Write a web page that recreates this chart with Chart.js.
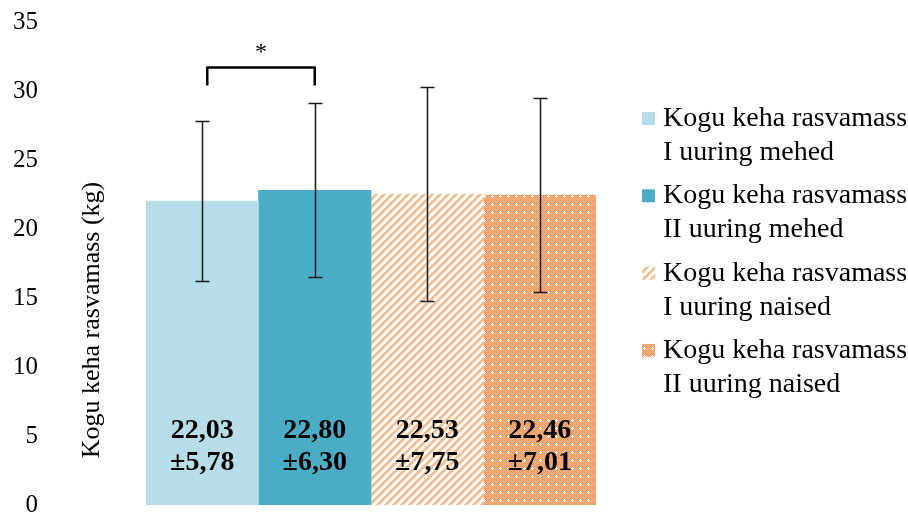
<!DOCTYPE html>
<html>
<head>
<meta charset="utf-8">
<script src="https://cdn.jsdelivr.net/npm/chart.js@4/dist/chart.umd.min.js"></script>
<style>
  html, body { margin: 0; padding: 0; background: #ffffff; }
  #wrap { width: 908px; height: 515px; position: relative; }
</style>
</head>
<body>
<div id="wrap"><canvas id="chart"></canvas></div>
<script>
// Series: total body fat mass (kg), first and second study, men and women
const seriesNames = [
  ['Kogu keha rasvamass', 'I uuring mehed'],
  ['Kogu keha rasvamass', 'II uuring mehed'],
  ['Kogu keha rasvamass', 'I uuring naised'],
  ['Kogu keha rasvamass', 'II uuring naised']
];
const means = [22.03, 22.80, 22.53, 22.46];
const sds = [5.78, 6.30, 7.75, 7.01];
const yTicks = [0, 5, 10, 15, 20, 25, 30, 35];
const axisTitle = 'Kogu keha rasvamass (kg)';
const sigPair = [0, 1];
const sigMark = '*';

const SERIF = '"Liberation Serif", "Times New Roman", serif';

// Fill patterns for the women's bars
function stripeTile() {
  const c = document.createElement('canvas');
  c.width = 8; c.height = 8;
  const g = c.getContext('2d');
  g.fillStyle = '#ffffff';
  g.fillRect(0, 0, 8, 8);
  g.fillStyle = '#f9c193';
  for (let y = 0; y < 8; y++) {
    for (let x = 0; x < 8; x++) {
      if ((x + y) % 8 < 4) g.fillRect(x, y, 1, 1);
    }
  }
  return c;
}
function dotTile() {
  const c = document.createElement('canvas');
  c.width = 8; c.height = 8;
  const g = c.getContext('2d');
  for (let y = 0; y < 8; y++) {
    for (let x = 0; x < 8; x++) {
      g.fillStyle = (x + y) % 2 === 0 ? '#ee985c' : '#f5b487';
      g.fillRect(x, y, 1, 1);
    }
  }
  g.fillStyle = '#ffffff';
  [[4, 3], [3, 4], [4, 4], [5, 4], [4, 5]].forEach(([x, y]) => g.fillRect(x, y, 1, 1));
  return c;
}
const ctx0 = document.getElementById('chart').getContext('2d');
const fills = [
  '#b7dde8',
  '#4bacc6',
  ctx0.createPattern(stripeTile(), 'repeat'),
  ctx0.createPattern(dotTile(), 'repeat')
];

const fmt = v => v.toFixed(2).replace('.', ',');

// Error bars, value labels, significance bracket, axis title and legend
const annotations = {
  id: 'annotations',
  afterDatasetsDraw(chart) {
    const ctx = chart.ctx;
    const y = chart.scales.y;
    const area = chart.chartArea;
    const xs = means.map((m, i) => chart.getDatasetMeta(i).data[0].x);

    ctx.save();
    // value labels inside the bars
    ctx.fillStyle = '#000';
    ctx.font = 'bold 28px ' + SERIF;
    ctx.textAlign = 'center';
    ctx.textBaseline = 'alphabetic';
    means.forEach((m, i) => {
      ctx.fillText(fmt(m), xs[i], area.bottom - 67);
      ctx.fillText('\u00b1' + fmt(sds[i]), xs[i], area.bottom - 35);
    });

    // error bars
    ctx.strokeStyle = '#1a1a1a';
    ctx.lineWidth = 1.5;
    means.forEach((m, i) => {
      const top = Math.round(y.getPixelForValue(m + sds[i])) + 0.5;
      const bot = Math.round(y.getPixelForValue(m - sds[i])) + 0.5;
      const x = Math.round(xs[i]) + 0.5;
      ctx.beginPath();
      ctx.moveTo(x, top); ctx.lineTo(x, bot);
      ctx.moveTo(x - 7, top); ctx.lineTo(x + 7, top);
      ctx.moveTo(x - 7, bot); ctx.lineTo(x + 7, bot);
      ctx.stroke();
    });

    // significance bracket above the men's bars
    const [a, b] = sigPair;
    const peak = Math.max(means[a] + sds[a], means[b] + sds[b]);
    const legY = y.getPixelForValue(peak + 1.3);
    const topY = y.getPixelForValue(peak + 2.6);
    const xl = xs[a] + 5, xr = xs[b];
    ctx.strokeStyle = '#000';
    ctx.lineWidth = 2.5;
    ctx.lineJoin = 'round';
    ctx.beginPath();
    ctx.moveTo(xl, legY);
    ctx.lineTo(xl, topY);
    ctx.lineTo(xr, topY);
    ctx.lineTo(xr, legY);
    ctx.stroke();
    ctx.fillStyle = '#000';
    ctx.font = '24px ' + SERIF;
    ctx.textBaseline = 'middle';
    ctx.fillText(sigMark, (xl + xr) / 2, y.getPixelForValue(peak + 4.0) + 4);

    // y axis title
    ctx.save();
    ctx.translate(92, 320);
    ctx.rotate(-Math.PI / 2);
    ctx.font = '26px ' + SERIF;
    ctx.textAlign = 'center';
    ctx.textBaseline = 'middle';
    ctx.fillText(axisTitle, 0, 0);
    ctx.restore();

    // legend
    ctx.font = '28px ' + SERIF;
    ctx.textAlign = 'left';
    ctx.textBaseline = 'alphabetic';
    seriesNames.forEach((lines, i) => {
      const base = 126 + i * 77.3;
      ctx.fillStyle = fills[i];
      ctx.fillRect(642, base - 14, 13, 13);
      ctx.fillStyle = '#000';
      lines.forEach((t, k) => ctx.fillText(t, 663, base + k * 34));
    });
    ctx.restore();
  }
};

new Chart(ctx0, {
  type: 'bar',
  data: {
    labels: [''],
    datasets: means.map((m, i) => ({
      label: seriesNames[i].join(' '),
      data: [m],
      backgroundColor: fills[i],
      borderWidth: 0,
      barPercentage: 1,
      categoryPercentage: 1
    }))
  },
  options: {
    responsive: true,
    maintainAspectRatio: false,
    animation: false,
    layout: { padding: { left: 0, right: 312, top: 22, bottom: 10 } },
    plugins: { legend: { display: false }, tooltip: { enabled: false } },
    scales: {
      x: { display: false },
      y: {
        min: 0,
        max: 35,
        afterBuildTicks: s => { s.ticks = yTicks.map(v => ({ value: v })); },
        afterFit: s => { s.width = 146; s.paddingTop = 0; s.paddingBottom = 0; },
        grid: { display: false, drawTicks: false, tickLength: 0 },
        border: { display: false },
        ticks: {
          padding: 108,
          color: '#000',
          font: { family: SERIF, size: 25 }
        }
      }
    }
  },
  plugins: [annotations]
});
</script>
</body>
</html>
